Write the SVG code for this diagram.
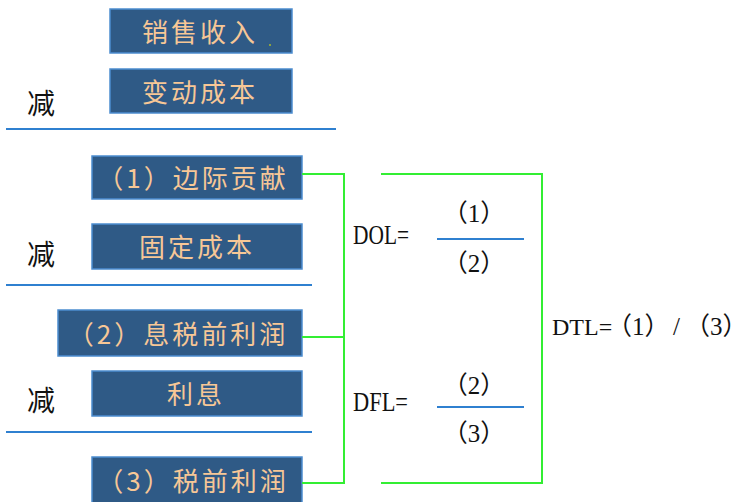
<svg xmlns="http://www.w3.org/2000/svg" width="747" height="502" viewBox="0 0 747 502">
<style>
.box{fill:#2F5A86;stroke:#4C8DD0;stroke-width:1.5}
.bt{font-family:"Noto Sans CJK SC","Liberation Sans",sans-serif;font-size:26px;fill:#F7C796;text-anchor:middle;letter-spacing:3px}
.minus{font-family:"Noto Sans CJK SC",sans-serif;font-size:28px;fill:#111;text-anchor:middle}
.rule{stroke:#2F80D0;stroke-width:2;fill:none}
.conn{stroke:#33EE33;stroke-width:2;fill:none}
.f{font-family:"Liberation Serif","Noto Sans CJK SC",serif;font-size:25px;fill:#111}
.fl{font-family:"Liberation Serif","Noto Sans CJK SC",serif;font-size:27px;fill:#111}
</style>
<rect width="747" height="502" fill="#fff"/>
<g id="n1"><rect class="box" x="110" y="9" width="182" height="44"/><text class="bt" x="200" y="42">销售收入</text><rect x="269" y="44" width="2" height="2" fill="#8BA040"/></g>
<g id="n2"><rect class="box" x="110" y="69" width="182" height="44"/><text class="bt" x="200" y="102">变动成本</text></g>
<g id="n3"><rect class="box" x="92" y="156" width="210" height="43"/><text class="bt" x="193" y="188">（1）边际贡献</text></g>
<g id="n4"><rect class="box" x="92" y="224" width="210" height="45"/><text class="bt" x="197" y="257">固定成本</text></g>
<g id="n5"><rect class="box" x="58" y="310" width="244" height="46"/><text class="bt" x="178" y="344">（2）息税前利润</text></g>
<g id="n6"><rect class="box" x="92" y="371" width="210" height="45"/><text class="bt" x="196" y="404">利息</text></g>
<g id="n7"><rect class="box" x="92" y="457" width="210" height="46"/><text class="bt" x="193" y="491">（3）税前利润</text></g>
<g id="labels">
<text class="minus" x="41" y="114">减</text>
<text class="minus" x="41" y="265">减</text>
<text class="minus" x="41" y="411">减</text>
<line class="rule" x1="6" y1="129" x2="336" y2="129"/>
<line class="rule" x1="6" y1="285" x2="312" y2="285"/>
<line class="rule" x1="6" y1="432" x2="312" y2="432"/>
<text class="fl" x="353" y="244" textLength="56" lengthAdjust="spacingAndGlyphs">DOL=</text>
<text class="f" x="474" y="222" text-anchor="middle">（1）</text>
<line class="rule" x1="437" y1="239" x2="524" y2="239"/>
<text class="f" x="474" y="272" text-anchor="middle">（2）</text>
<text class="fl" x="353" y="411" textLength="55" lengthAdjust="spacingAndGlyphs">DFL=</text>
<text class="f" x="474" y="394" text-anchor="middle">（2）</text>
<line class="rule" x1="437" y1="407" x2="524" y2="407"/>
<text class="f" x="474" y="442" text-anchor="middle">（3）</text>
<text class="f" y="335"><tspan x="552" font-size="24">DTL=</tspan><tspan x="607">（1）</tspan><tspan x="673">/</tspan><tspan x="685">（3）</tspan></text>
</g>
<g id="connectors">
<polyline class="conn" points="302,174 345,174"/>
<polyline class="conn" points="302,337 345,337"/>
<polyline class="conn" points="302,483 345,483"/>
<line class="conn" x1="344" y1="173" x2="344" y2="484"/>
<polyline class="conn" points="381,174 542,174 542,483 381,483"/>
</g>
</svg>
